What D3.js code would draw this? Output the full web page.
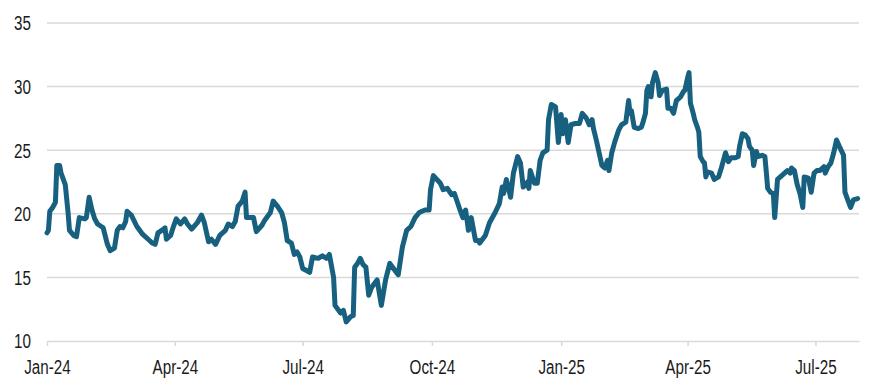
<!DOCTYPE html>
<html>
<head>
<meta charset="utf-8">
<script src="https://cdn.jsdelivr.net/npm/d3@7"></script>
<style>
  body { margin: 0; background: #fff; }
  svg text { font-family: "Liberation Sans", Arial, sans-serif; fill: #1a1a1a; }
</style>
</head>
<body>
<svg width="881" height="387"></svg>
<script>
const w = 881;
const h = 387;

// dates and values
const dates = [
  '2024-01-01','2024-01-02','2024-01-03','2024-01-05','2024-01-07','2024-01-08','2024-01-10','2024-01-11','2024-01-14','2024-01-16',
  '2024-01-17','2024-01-20','2024-01-22','2024-01-24','2024-01-28','2024-01-29','2024-01-31','2024-02-02','2024-02-04','2024-02-06',
  '2024-02-10','2024-02-13','2024-02-15','2024-02-18','2024-02-20','2024-02-22','2024-02-24','2024-02-26','2024-02-27','2024-03-01',
  '2024-03-05','2024-03-09','2024-03-13','2024-03-16','2024-03-18','2024-03-20','2024-03-24','2024-03-25','2024-03-26','2024-03-29',
  '2024-03-31','2024-04-02','2024-04-05','2024-04-08','2024-04-10','2024-04-13','2024-04-17','2024-04-20','2024-04-22','2024-04-25',
  '2024-04-27','2024-04-30','2024-05-03','2024-05-07','2024-05-09','2024-05-12','2024-05-14','2024-05-16','2024-05-19','2024-05-21',
  '2024-05-22','2024-05-27','2024-05-29','2024-06-02','2024-06-04','2024-06-08','2024-06-10','2024-06-13','2024-06-16','2024-06-18',
  '2024-06-20','2024-06-23','2024-06-25','2024-06-27','2024-06-29','2024-07-01','2024-07-06','2024-07-08','2024-07-12','2024-07-15',
  '2024-07-18','2024-07-20','2024-07-23','2024-07-24','2024-07-28','2024-07-30','2024-08-01','2024-08-04','2024-08-06','2024-08-07',
  '2024-08-09','2024-08-11','2024-08-13','2024-08-15','2024-08-17','2024-08-19','2024-08-23','2024-08-26','2024-08-29','2024-09-01',
  '2024-09-03','2024-09-07','2024-09-10','2024-09-13','2024-09-16','2024-09-19','2024-09-22','2024-09-26','2024-09-29','2024-09-30',
  '2024-10-02','2024-10-07','2024-10-09','2024-10-12','2024-10-15','2024-10-17','2024-10-21','2024-10-23','2024-10-25','2024-10-27',
  '2024-10-29','2024-11-01','2024-11-03','2024-11-04','2024-11-08','2024-11-11','2024-11-15','2024-11-18','2024-11-20','2024-11-21',
  '2024-11-23','2024-11-26','2024-11-28','2024-12-01','2024-12-03','2024-12-05','2024-12-08','2024-12-09','2024-12-10','2024-12-13',
  '2024-12-15','2024-12-17','2024-12-19','2024-12-22','2024-12-23','2024-12-25','2024-12-28','2024-12-30','2025-01-01','2025-01-02',
  '2025-01-04','2025-01-06','2025-01-08','2025-01-11','2025-01-14','2025-01-16','2025-01-19','2025-01-21','2025-01-23','2025-01-24',
  '2025-01-26','2025-01-28','2025-01-30','2025-02-01','2025-02-03','2025-02-04','2025-02-06','2025-02-08','2025-02-11','2025-02-13',
  '2025-02-16','2025-02-18','2025-02-19','2025-02-20','2025-02-22','2025-02-25','2025-02-27','2025-02-28','2025-03-02','2025-03-03',
  '2025-03-04','2025-03-06','2025-03-07','2025-03-09','2025-03-11','2025-03-12','2025-03-14','2025-03-17','2025-03-18','2025-03-20',
  '2025-03-22','2025-03-24','2025-03-27','2025-03-29','2025-03-30','2025-04-01','2025-04-02','2025-04-03','2025-04-05','2025-04-06',
  '2025-04-08','2025-04-09','2025-04-10','2025-04-12','2025-04-13','2025-04-14','2025-04-15','2025-04-18','2025-04-20','2025-04-23',
  '2025-04-25','2025-04-27','2025-04-28','2025-04-30','2025-05-02','2025-05-05','2025-05-07','2025-05-08','2025-05-10','2025-05-12',
  '2025-05-14','2025-05-15','2025-05-17','2025-05-18','2025-05-20','2025-05-21','2025-05-24','2025-05-26','2025-05-27','2025-05-28',
  '2025-05-30','2025-06-01','2025-06-02','2025-06-04','2025-06-07','2025-06-10','2025-06-11','2025-06-13','2025-06-14','2025-06-16',
  '2025-06-18','2025-06-20','2025-06-22','2025-06-23','2025-06-26','2025-06-28','2025-06-30','2025-07-02','2025-07-04','2025-07-07',
  '2025-07-08','2025-07-10','2025-07-12','2025-07-14','2025-07-16','2025-07-18','2025-07-21','2025-07-22','2025-07-24','2025-07-26',
  '2025-07-28','2025-07-31'
];

const values = [
  18.5,18.7,20.2,20.5,20.9,23.8,23.8,23.2,22.3,20.1,
  18.7,18.3,18.2,19.7,19.6,19.7,21.3,20.3,19.6,19.2,
  18.9,17.6,17.1,17.3,18.7,19.0,18.9,19.4,20.2,19.9,
  19.0,18.4,18.0,17.7,17.6,18.5,18.8,18.9,18.0,18.3,
  19.0,19.6,19.2,19.6,19.2,18.8,19.3,19.9,19.3,17.8,
  18.0,17.6,18.3,18.7,19.2,19.0,19.4,20.6,21.0,21.7,
  19.7,19.7,18.6,19.1,19.5,20.1,21.0,20.6,20.1,19.3,
  17.9,17.7,16.8,17.0,16.6,15.7,15.4,16.6,16.5,16.7,
  16.5,16.8,15.0,12.8,12.2,12.4,11.5,11.9,12.0,15.8,
  16.1,16.5,16.0,15.8,13.6,14.2,14.8,12.8,14.8,16.1,
  15.8,15.2,17.4,18.7,19.0,19.7,20.1,20.3,20.3,21.9,
  23.0,22.4,21.9,22.0,21.5,21.6,20.3,19.7,20.3,18.7,
  19.7,17.9,17.9,17.7,18.3,19.3,20.1,20.8,22.1,21.6,
  22.7,21.3,23.2,24.5,24.0,22.1,22.5,22.0,23.4,22.4,
  22.4,24.2,24.8,25.0,27.4,28.6,28.4,25.6,27.8,26.3,
  27.4,25.6,27.0,27.1,27.1,27.9,27.5,27.0,27.4,26.7,
  25.8,24.8,23.8,23.6,24.2,23.4,24.8,25.6,26.6,27.0,
  27.2,28.9,27.9,28.1,26.8,26.7,26.8,27.1,27.9,29.7,
  30.0,29.2,30.3,31.1,30.3,29.3,29.7,29.8,28.3,28.3,
  27.9,28.9,29.2,29.6,29.7,30.7,31.1,28.7,27.9,27.4,
  26.8,26.4,24.5,24.1,24.0,22.9,23.3,23.2,22.7,22.9,
  23.6,24.4,24.8,24.1,24.4,24.4,24.5,25.3,26.3,26.2,
  25.9,25.3,25.0,23.8,24.9,24.5,24.6,24.5,23.3,22.0,
  21.7,21.6,19.7,22.7,23.0,23.3,23.4,23.2,23.6,23.4,
  22.3,21.6,20.5,22.9,22.8,21.7,23.2,23.4,23.4,23.7,
  23.2,23.7,24.0,24.8,25.8,25.3,24.6,21.7,21.1,20.5,
  21.1,21.2
];

const yTicks = [10, 15, 20, 25, 30, 35];
const xTicks = ['2024-01-01','2024-04-01','2024-07-01','2024-10-01','2025-01-01','2025-04-01','2025-07-01'];

const parse = d3.timeParse('%Y-%m-%d');
const data = dates.map((d, i) => ({ date: parse(d), value: values[i] }));

const svg = d3.select('svg');

const x = d3.scaleTime()
  .domain([parse('2024-01-01'), parse('2025-08-01')])
  .range([47, 859]);

const y = d3.scaleLinear().domain([10, 35]).range([341, 23]);

// narrow look: squeeze each label horizontally
function squeeze(sel) {
  sel.each(function () {
    const len = this.getComputedTextLength();
    d3.select(this)
      .attr('textLength', len * 0.78)
      .attr('lengthAdjust', 'spacingAndGlyphs');
  });
}

// gridlines
svg.append('g')
  .selectAll('line')
  .data(yTicks.slice(1))
  .enter()
  .append('line')
  .attr('x1', 47)
  .attr('x2', 859)
  .attr('y1', d => y(d))
  .attr('y2', d => y(d))
  .attr('stroke', '#d9d9d9')
  .attr('stroke-width', 1.5);

// y labels
const yAxis = svg.append('g')
  .attr('transform', 'translate(31,0)')
  .call(d3.axisLeft(y).tickValues(yTicks).tickSize(0).tickPadding(0));
yAxis.select('.domain').remove();
yAxis.selectAll('text')
  .attr('font-size', 19.5)
  .attr('font-family', null)
  .attr('dy', '0.35em')
  .call(squeeze);

// x axis
const xAxis = svg.append('g')
  .attr('transform', 'translate(0,' + y(10) + ')')
  .call(d3.axisBottom(x)
    .tickValues(xTicks.map(parse))
    .tickSize(5)
    .tickSizeOuter(0)
    .tickPadding(14)
    .tickFormat(d3.timeFormat('%b-%y')));
xAxis.select('.domain').attr('stroke', '#d9d9d9').attr('stroke-width', 1.5);
xAxis.selectAll('.tick line').attr('stroke', '#d9d9d9').attr('stroke-width', 1.5);
xAxis.selectAll('text')
  .attr('font-size', 19.5)
  .attr('font-family', null)
  .call(squeeze);
svg.selectAll('.tick text').attr('fill', '#1a1a1a');

// the series
const line = d3.line()
  .x(d => x(d.date))
  .y(d => y(d.value));

svg.append('path')
  .datum(data)
  .attr('fill', 'none')
  .attr('stroke', '#17607f')
  .attr('stroke-width', 5)
  .attr('stroke-linejoin', 'round')
  .attr('stroke-linecap', 'round')
  .attr('d', line);
</script>
</body>
</html>
